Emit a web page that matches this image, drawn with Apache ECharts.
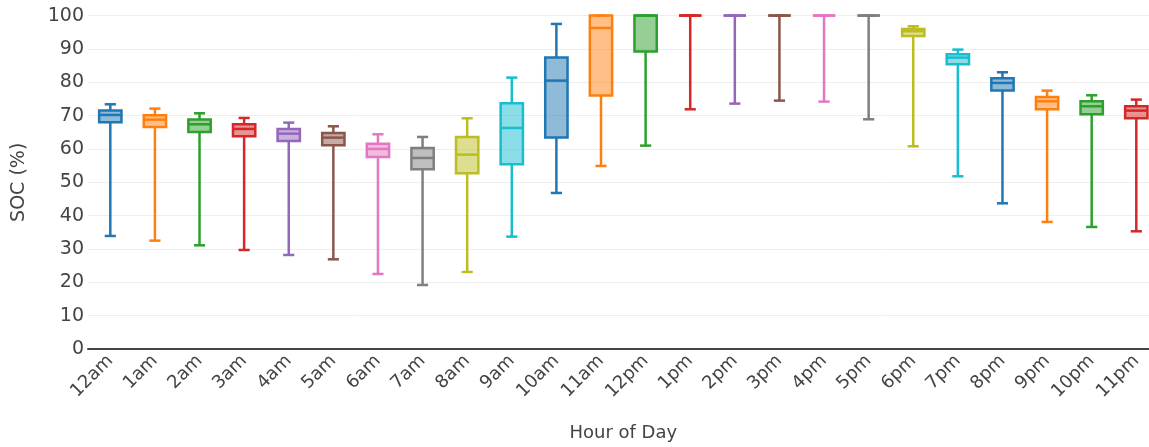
<!DOCTYPE html>
<html>
<head>
<meta charset="utf-8">
<script src="https://cdn.jsdelivr.net/npm/echarts@6/dist/echarts.min.js"></script>
<style>
html,body{margin:0;padding:0;background:#fff;}
#chart{width:1149px;height:447px;}
</style>
</head>
<body>
<div id="chart"></div>
<script>
var categories = ['12am','1am','2am','3am','4am','5am','6am','7am','8am','9am','10am','11am','12pm','1pm','2pm','3pm','4pm','5pm','6pm','7pm','8pm','9pm','10pm','11pm'];
var lowerWhisker = [33.9, 32.5, 31.1, 29.7, 28.2, 26.9, 22.5, 19.2, 23.1, 33.7, 46.8, 54.9, 61.0, 71.9, 73.6, 74.5, 74.2, 68.9, 60.8, 51.8, 43.7, 38.1, 36.6, 35.3];
var q1Values     = [68.0, 66.6, 65.1, 63.8, 62.4, 61.1, 57.6, 53.9, 52.7, 55.4, 63.4, 76.0, 89.2, 100, 100, 100, 100, 100, 93.9, 85.4, 77.5, 71.9, 70.4, 69.2];
var medianValues = [70.2, 68.8, 67.4, 66.0, 64.6, 63.4, 60.0, 57.3, 58.3, 66.3, 80.5, 96.3, 100, 100, 100, 100, 100, 100, 95.3, 87.4, 79.8, 74.3, 72.8, 71.5];
var q3Values     = [71.5, 70.1, 68.8, 67.4, 66.0, 64.8, 61.6, 60.3, 63.6, 73.7, 87.4, 100, 100, 100, 100, 100, 100, 100, 96.0, 88.4, 81.2, 75.6, 74.3, 72.8];
var upperWhisker = [73.4, 72.1, 70.7, 69.3, 67.9, 66.8, 64.4, 63.6, 69.2, 81.4, 97.5, 100, 100, 100, 100, 100, 100, 100, 96.8, 89.8, 83.0, 77.5, 76.1, 74.8];
var yTicks = [0, 10, 20, 30, 40, 50, 60, 70, 80, 90, 100];

var palette = ['#1f77b4','#ff7f0e','#2ca02c','#d62728','#9467bd','#8c564b','#e377c2','#7f7f7f','#bcbd22','#17becf'];
function rgba(hex, a){
  var r=parseInt(hex.substr(1,2),16), g=parseInt(hex.substr(3,2),16), b=parseInt(hex.substr(5,2),16);
  return 'rgba('+r+','+g+','+b+','+a+')';
}

var seriesData = categories.map(function(c, i){
  return [i, lowerWhisker[i], q1Values[i], medianValues[i], q3Values[i], upperWhisker[i]];
});

function renderItem(params, api){
  var i = api.value(0);
  var color = palette[i % palette.length];
  var pLow = api.coord([i, api.value(1)]);
  var pQ1 = api.coord([i, api.value(2)]);
  var pMed = api.coord([i, api.value(3)]);
  var pQ3 = api.coord([i, api.value(4)]);
  var pUp = api.coord([i, api.value(5)]);
  var bw = api.size([1, 0])[0] * 0.5;
  var cw = bw * 0.5;
  var cx = pQ1[0];
  var lw = 2.5;
  var lineStyle = {stroke: color, lineWidth: lw, fill: null};
  var children = [];
  children.push({type:'line', shape:{x1:cx, y1:pQ1[1], x2:cx, y2:pLow[1]}, style: lineStyle});
  children.push({type:'line', shape:{x1:cx, y1:pQ3[1], x2:cx, y2:pUp[1]}, style: lineStyle});
  children.push({type:'line', shape:{x1:cx-cw/2, y1:pLow[1], x2:cx+cw/2, y2:pLow[1]}, style: lineStyle});
  children.push({type:'line', shape:{x1:cx-cw/2, y1:pUp[1], x2:cx+cw/2, y2:pUp[1]}, style: lineStyle});
  children.push({type:'rect', shape:{x:cx-bw/2, y:pQ3[1], width:bw, height:pQ1[1]-pQ3[1]},
    style:{fill: rgba(color,0.5), stroke: color, lineWidth: lw}});
  children.push({type:'line', shape:{x1:cx-bw/2, y1:pMed[1], x2:cx+bw/2, y2:pMed[1]}, style: lineStyle});
  return {type:'group', children: children};
}

var chart = echarts.init(document.getElementById('chart'));
chart.setOption({
  animation: false,
  backgroundColor: '#fff',
  grid: {left: 88, top: 15.6, width: 1070.6, height: 333.4, containLabel: false, outerBoundsMode: 'none'},
  xAxis: {
    type: 'category',
    data: categories,
    boundaryGap: true,
    name: 'Hour of Day',
    nameLocation: 'middle',
    nameGap: 75,
    nameTextStyle: {fontFamily: 'DejaVu Sans', fontSize: 18, color: '#444'},
    axisLine: {show: true, lineStyle: {color: '#444', width: 2}},
    axisTick: {show: false},
    axisLabel: {rotate: 45, fontFamily: 'DejaVu Sans', fontSize: 18, color: '#444', margin: 9, interval: 0},
    splitLine: {show: false}
  },
  yAxis: {
    type: 'value',
    min: yTicks[0],
    max: yTicks[yTicks.length-1],
    interval: yTicks[1] - yTicks[0],
    name: 'SOC (%)',
    nameLocation: 'middle',
    nameGap: 59,
    nameTextStyle: {fontFamily: 'DejaVu Sans', fontSize: 19, color: '#444'},
    axisLine: {show: false},
    axisTick: {show: false},
    axisLabel: {fontFamily: 'DejaVu Sans', fontSize: 19, color: '#444', margin: 4},
    splitLine: {show: true, lineStyle: {color: '#eee', width: 1}}
  },
  series: [{
    type: 'custom',
    renderItem: renderItem,
    data: seriesData,
    encode: {x: 0, y: [1, 2, 3, 4, 5]},
    clip: false
  }]
});
</script>
</body>
</html>
